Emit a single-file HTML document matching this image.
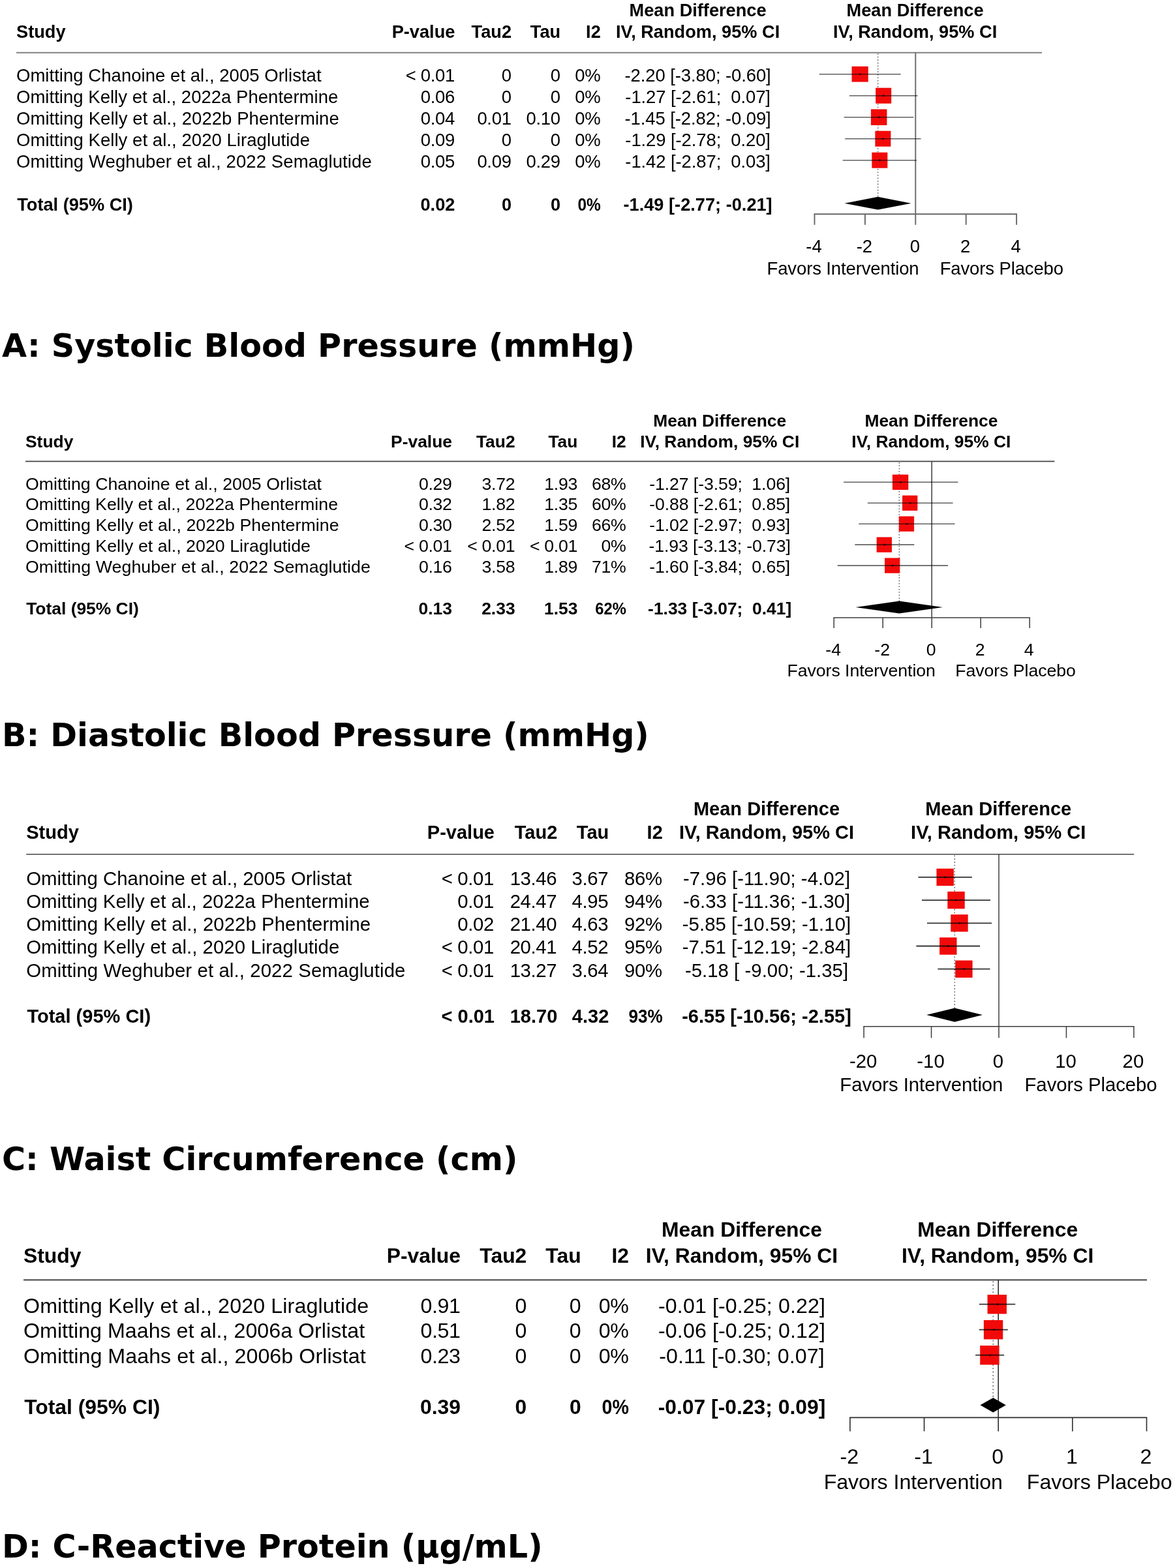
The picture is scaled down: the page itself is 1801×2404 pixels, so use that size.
<!DOCTYPE html>
<html lang="en">
<head>
<meta charset="utf-8">
<title>Sensitivity analysis forest plots</title>
<style>
html,body{margin:0;padding:0;background:#fff}
body{width:1801px;height:2404px;overflow:hidden}
svg{display:block}
text{fill:#000;white-space:pre}
.ls{font-family:"Liberation Sans",sans-serif}
.dv{font-family:"DejaVu Sans",sans-serif}
.b{font-weight:700}
.ln{fill:none}
.ci{stroke:#000;fill:none}
.dot{stroke:#5a5a5a;stroke-width:1.5;fill:none}
text{stroke:none}
.sq,.pt,.dia{stroke:none}
.nu{letter-spacing:-.012em}
.sq{fill:#f20a0a}
.pt{fill:#000;fill-opacity:.55}
.dia{fill:#000}
</style>
</head>
<body>
<svg width="1801" height="2404" viewBox="0 0 1801 2404">
<defs><filter id="soft" x="0" y="0" width="1801" height="2404" filterUnits="userSpaceOnUse" color-interpolation-filters="sRGB"><feGaussianBlur stdDeviation="0.55"/></filter></defs>
<rect width="1801" height="2404" fill="#fff"/>
<g id="pa" stroke="#666" stroke-width="1.9" filter="url(#soft)">
<text class="ls b" x="25.00" y="58" font-size="27.20">Study</text>
<text class="ls b" x="697.40" y="58" font-size="27.20" text-anchor="end">P-value</text>
<text class="ls b" x="784.00" y="58" font-size="27.20" text-anchor="end">Tau2</text>
<text class="ls b" x="859.20" y="58" font-size="27.20" text-anchor="end">Tau</text>
<text class="ls b" x="920.80" y="58" font-size="27.20" text-anchor="end">I2</text>
<text class="ls b" x="1069.60" y="25" font-size="27.20" text-anchor="middle">Mean Difference</text>
<text class="ls b" x="1069.60" y="58" font-size="27.20" text-anchor="middle">IV, Random, 95% CI</text>
<text class="ls b" x="1402.60" y="25" font-size="27.20" text-anchor="middle">Mean Difference</text>
<text class="ls b" x="1402.60" y="58" font-size="27.20" text-anchor="middle">IV, Random, 95% CI</text>
<line class="ln" stroke="#808080" stroke-width="2.0" x1="25.00" x2="1597.00" y1="80.70" y2="80.70"/>
<line class="ln" x1="1403.30" x2="1403.30" y1="80.70" y2="328.20"/>
<line class="dot" stroke-dasharray="1.54 2.99" x1="1345.64" x2="1345.64" y1="82.29" y2="311.70"/>
<text class="ls nm" x="25.00" y="125" font-size="27.50" textLength="467.57" lengthAdjust="spacing">Omitting Chanoine et al., 2005 Orlistat</text>
<text class="ls nu" x="697.00" y="125" font-size="27.50" text-anchor="end">&lt; 0.01</text>
<text class="ls nu" x="783.60" y="125" font-size="27.50" text-anchor="end">0</text>
<text class="ls nu" x="858.80" y="125" font-size="27.50" text-anchor="end">0</text>
<text class="ls nu" x="920.40" y="125" font-size="27.50" text-anchor="end">0%</text>
<text class="ls" x="1069.60" y="125" font-size="27.50" text-anchor="middle" letter-spacing="-0.004em">-2.20 [-3.80; -0.60]</text>
<rect class="sq" x="1305.56" y="101.80" width="25.20" height="23.80"/>
<line class="ci" stroke-width="1.6" stroke-opacity="0.62" x1="1255.74" x2="1380.58" y1="113.70" y2="113.70"/>
<circle class="pt" cx="1318.16" cy="113.70" r="1.6"/>
<text class="ls nm" x="25.00" y="158" font-size="27.50" textLength="493.28" lengthAdjust="spacing">Omitting Kelly et al., 2022a Phentermine</text>
<text class="ls nu" x="697.00" y="158" font-size="27.50" text-anchor="end">0.06</text>
<text class="ls nu" x="783.60" y="158" font-size="27.50" text-anchor="end">0</text>
<text class="ls nu" x="858.80" y="158" font-size="27.50" text-anchor="end">0</text>
<text class="ls nu" x="920.40" y="158" font-size="27.50" text-anchor="end">0%</text>
<text class="ls" x="1069.60" y="158" font-size="27.50" text-anchor="middle" letter-spacing="-0.004em">-1.27 [-2.61;  0.07]</text>
<rect class="sq" x="1342.15" y="134.70" width="24.00" height="24.00"/>
<line class="ci" stroke-width="1.6" stroke-opacity="0.62" x1="1301.79" x2="1406.51" y1="146.70" y2="146.70"/>
<circle class="pt" cx="1354.15" cy="146.70" r="1.6"/>
<text class="ls nm" x="25.00" y="191" font-size="27.50" textLength="494.78" lengthAdjust="spacing">Omitting Kelly et al., 2022b Phentermine</text>
<text class="ls nu" x="697.00" y="191" font-size="27.50" text-anchor="end">0.04</text>
<text class="ls nu" x="783.60" y="191" font-size="27.50" text-anchor="end">0.01</text>
<text class="ls nu" x="858.80" y="191" font-size="27.50" text-anchor="end">0.10</text>
<text class="ls nu" x="920.40" y="191" font-size="27.50" text-anchor="end">0%</text>
<text class="ls" x="1069.60" y="191" font-size="27.50" text-anchor="middle" letter-spacing="-0.004em">-1.45 [-2.82; -0.09]</text>
<rect class="sq" x="1334.93" y="167.45" width="24.50" height="24.50"/>
<line class="ci" stroke-width="1.6" stroke-opacity="0.62" x1="1293.67" x2="1400.32" y1="179.70" y2="179.70"/>
<circle class="pt" cx="1347.18" cy="179.70" r="1.6"/>
<text class="ls nm" x="25.00" y="224" font-size="27.50" textLength="449.99" lengthAdjust="spacing">Omitting Kelly et al., 2020 Liraglutide</text>
<text class="ls nu" x="697.00" y="224" font-size="27.50" text-anchor="end">0.09</text>
<text class="ls nu" x="783.60" y="224" font-size="27.50" text-anchor="end">0</text>
<text class="ls nu" x="858.80" y="224" font-size="27.50" text-anchor="end">0</text>
<text class="ls nu" x="920.40" y="224" font-size="27.50" text-anchor="end">0%</text>
<text class="ls" x="1069.60" y="224" font-size="27.50" text-anchor="middle" letter-spacing="-0.004em">-1.29 [-2.78;  0.20]</text>
<rect class="sq" x="1341.38" y="200.70" width="24.00" height="24.00"/>
<line class="ci" stroke-width="1.6" stroke-opacity="0.62" x1="1295.21" x2="1411.54" y1="212.70" y2="212.70"/>
<circle class="pt" cx="1353.38" cy="212.70" r="1.6"/>
<text class="ls nm" x="25.00" y="257" font-size="27.50" textLength="544.71" lengthAdjust="spacing">Omitting Weghuber et al., 2022 Semaglutide</text>
<text class="ls nu" x="697.00" y="257" font-size="27.50" text-anchor="end">0.05</text>
<text class="ls nu" x="783.60" y="257" font-size="27.50" text-anchor="end">0.09</text>
<text class="ls nu" x="858.80" y="257" font-size="27.50" text-anchor="end">0.29</text>
<text class="ls nu" x="920.40" y="257" font-size="27.50" text-anchor="end">0%</text>
<text class="ls" x="1069.60" y="257" font-size="27.50" text-anchor="middle" letter-spacing="-0.004em">-1.42 [-2.87;  0.03]</text>
<rect class="sq" x="1336.35" y="233.70" width="24.00" height="24.00"/>
<line class="ci" stroke-width="1.6" stroke-opacity="0.62" x1="1291.73" x2="1404.96" y1="245.70" y2="245.70"/>
<circle class="pt" cx="1348.35" cy="245.70" r="1.6"/>
<text class="ls b" x="26.20" y="323" font-size="27.20">Total (95% CI)</text>
<text class="ls b" x="697.40" y="323" font-size="27.20" text-anchor="end">0.02</text>
<text class="ls b" x="784.00" y="323" font-size="27.20" text-anchor="end">0</text>
<text class="ls b" x="859.20" y="323" font-size="27.20" text-anchor="end">0</text>
<text class="ls b" x="920.80" y="323" font-size="27.20" text-anchor="end" textLength="35.38" lengthAdjust="spacingAndGlyphs">0%</text>
<text class="ls b" x="1069.60" y="323" font-size="27.20" text-anchor="middle">-1.49 [-2.77; -0.21]</text>
<polygon class="dia" points="1294.50,311.70 1345.64,301.80 1396.57,311.70 1345.64,321.60"/>
<line class="ln" x1="1247.55" x2="1559.05" y1="328.20" y2="328.20"/>
<line class="ln" x1="1248.50" x2="1248.50" y1="328.20" y2="344.70"/>
<line class="ln" x1="1325.90" x2="1325.90" y1="328.20" y2="344.70"/>
<line class="ln" x1="1403.30" x2="1403.30" y1="328.20" y2="344.70"/>
<line class="ln" x1="1480.70" x2="1480.70" y1="328.20" y2="344.70"/>
<line class="ln" x1="1558.10" x2="1558.10" y1="328.20" y2="344.70"/>
<text class="ls" x="1247.50" y="387" font-size="27.50" text-anchor="middle">-4</text>
<text class="ls" x="1324.90" y="387" font-size="27.50" text-anchor="middle">-2</text>
<text class="ls" x="1402.30" y="387" font-size="27.50" text-anchor="middle">0</text>
<text class="ls" x="1479.70" y="387" font-size="27.50" text-anchor="middle">2</text>
<text class="ls" x="1557.10" y="387" font-size="27.50" text-anchor="middle">4</text>
<text class="ls" x="1175.51" y="421" font-size="27.50" letter-spacing="-0.0045em">Favors Intervention</text>
<text class="ls" x="1629.98" y="421" font-size="27.50" text-anchor="end" letter-spacing="-0.0045em">Favors Placebo</text>
</g>
<text class="dv b" x="3.00" y="547" font-size="49.20">A: Systolic Blood Pressure (mmHg)</text>
<g id="pb" stroke="#3c3c3c" stroke-width="1.5" filter="url(#soft)">
<text class="ls b" x="39.00" y="686" font-size="26.41">Study</text>
<text class="ls b" x="693.00" y="686" font-size="26.41" text-anchor="end">P-value</text>
<text class="ls b" x="789.60" y="686" font-size="26.41" text-anchor="end">Tau2</text>
<text class="ls b" x="885.40" y="686" font-size="26.41" text-anchor="end">Tau</text>
<text class="ls b" x="959.80" y="686" font-size="26.41" text-anchor="end">I2</text>
<text class="ls b" x="1103.20" y="654" font-size="26.41" text-anchor="middle">Mean Difference</text>
<text class="ls b" x="1103.20" y="686" font-size="26.41" text-anchor="middle">IV, Random, 95% CI</text>
<text class="ls b" x="1427.40" y="654" font-size="26.41" text-anchor="middle">Mean Difference</text>
<text class="ls b" x="1427.40" y="686" font-size="26.41" text-anchor="middle">IV, Random, 95% CI</text>
<line class="ln" stroke="#444" stroke-width="1.55" x1="39.00" x2="1616.50" y1="707.35" y2="707.35"/>
<line class="ln" x1="1428.20" x2="1428.20" y1="707.35" y2="946.98"/>
<line class="dot" stroke-dasharray="1.50 2.91" x1="1378.33" x2="1378.33" y1="708.89" y2="931.00"/>
<text class="ls nm" x="39.00" y="751" font-size="26.70" textLength="453.97" lengthAdjust="spacing">Omitting Chanoine et al., 2005 Orlistat</text>
<text class="ls nu" x="692.60" y="751" font-size="26.70" text-anchor="end">0.29</text>
<text class="ls nu" x="789.20" y="751" font-size="26.70" text-anchor="end">3.72</text>
<text class="ls nu" x="885.00" y="751" font-size="26.70" text-anchor="end">1.93</text>
<text class="ls nu" x="959.40" y="751" font-size="26.70" text-anchor="end">68%</text>
<text class="ls" x="1103.20" y="751" font-size="26.70" text-anchor="middle" letter-spacing="-0.004em">-1.27 [-3.59;  1.06]</text>
<rect class="sq" x="1367.88" y="727.60" width="24.40" height="23.40"/>
<line class="ci" stroke-width="1.6" stroke-opacity="0.62" x1="1293.08" x2="1468.45" y1="739.30" y2="739.30"/>
<circle class="pt" cx="1380.58" cy="739.30" r="1.6"/>
<text class="ls nm" x="39.00" y="782" font-size="26.70" textLength="478.98" lengthAdjust="spacing">Omitting Kelly et al., 2022a Phentermine</text>
<text class="ls nu" x="692.60" y="782" font-size="26.70" text-anchor="end">0.32</text>
<text class="ls nu" x="789.20" y="782" font-size="26.70" text-anchor="end">1.82</text>
<text class="ls nu" x="885.00" y="782" font-size="26.70" text-anchor="end">1.35</text>
<text class="ls nu" x="959.40" y="782" font-size="26.70" text-anchor="end">60%</text>
<text class="ls" x="1103.20" y="782" font-size="26.70" text-anchor="middle" letter-spacing="-0.004em">-0.88 [-2.61;  0.85]</text>
<rect class="sq" x="1383.05" y="759.60" width="23.30" height="23.30"/>
<line class="ci" stroke-width="1.6" stroke-opacity="0.62" x1="1329.83" x2="1460.58" y1="771.25" y2="771.25"/>
<circle class="pt" cx="1395.20" cy="771.25" r="1.6"/>
<text class="ls nm" x="39.00" y="814" font-size="26.70" textLength="480.48" lengthAdjust="spacing">Omitting Kelly et al., 2022b Phentermine</text>
<text class="ls nu" x="692.60" y="814" font-size="26.70" text-anchor="end">0.30</text>
<text class="ls nu" x="789.20" y="814" font-size="26.70" text-anchor="end">2.52</text>
<text class="ls nu" x="885.00" y="814" font-size="26.70" text-anchor="end">1.59</text>
<text class="ls nu" x="959.40" y="814" font-size="26.70" text-anchor="end">66%</text>
<text class="ls" x="1103.20" y="814" font-size="26.70" text-anchor="middle" letter-spacing="-0.004em">-1.02 [-2.97;  0.93]</text>
<rect class="sq" x="1377.80" y="791.55" width="23.30" height="23.30"/>
<line class="ci" stroke-width="1.6" stroke-opacity="0.62" x1="1316.33" x2="1463.58" y1="803.20" y2="803.20"/>
<circle class="pt" cx="1389.95" cy="803.20" r="1.6"/>
<text class="ls nm" x="39.00" y="846" font-size="26.70" textLength="436.89" lengthAdjust="spacing">Omitting Kelly et al., 2020 Liraglutide</text>
<text class="ls nu" x="692.60" y="846" font-size="26.70" text-anchor="end">&lt; 0.01</text>
<text class="ls nu" x="789.20" y="846" font-size="26.70" text-anchor="end">&lt; 0.01</text>
<text class="ls nu" x="885.00" y="846" font-size="26.70" text-anchor="end">&lt; 0.01</text>
<text class="ls nu" x="959.40" y="846" font-size="26.70" text-anchor="end">0%</text>
<text class="ls" x="1103.20" y="846" font-size="26.70" text-anchor="middle" letter-spacing="-0.004em">-1.93 [-3.13; -0.73]</text>
<rect class="sq" x="1343.67" y="823.50" width="23.30" height="23.30"/>
<line class="ci" stroke-width="1.6" stroke-opacity="0.62" x1="1310.33" x2="1401.33" y1="835.15" y2="835.15"/>
<circle class="pt" cx="1355.83" cy="835.15" r="1.6"/>
<text class="ls nm" x="39.00" y="878" font-size="26.70" textLength="528.91" lengthAdjust="spacing">Omitting Weghuber et al., 2022 Semaglutide</text>
<text class="ls nu" x="692.60" y="878" font-size="26.70" text-anchor="end">0.16</text>
<text class="ls nu" x="789.20" y="878" font-size="26.70" text-anchor="end">3.58</text>
<text class="ls nu" x="885.00" y="878" font-size="26.70" text-anchor="end">1.89</text>
<text class="ls nu" x="959.40" y="878" font-size="26.70" text-anchor="end">71%</text>
<text class="ls" x="1103.20" y="878" font-size="26.70" text-anchor="middle" letter-spacing="-0.004em">-1.60 [-3.84;  0.65]</text>
<rect class="sq" x="1356.05" y="855.45" width="23.30" height="23.30"/>
<line class="ci" stroke-width="1.6" stroke-opacity="0.62" x1="1283.70" x2="1453.08" y1="867.10" y2="867.10"/>
<circle class="pt" cx="1368.20" cy="867.10" r="1.6"/>
<text class="ls b" x="40.20" y="942" font-size="26.41">Total (95% CI)</text>
<text class="ls b" x="693.00" y="942" font-size="26.41" text-anchor="end">0.13</text>
<text class="ls b" x="789.60" y="942" font-size="26.41" text-anchor="end">2.33</text>
<text class="ls b" x="885.40" y="942" font-size="26.41" text-anchor="end">1.53</text>
<text class="ls b" x="959.80" y="942" font-size="26.41" text-anchor="end" textLength="47.57" lengthAdjust="spacingAndGlyphs">62%</text>
<text class="ls b" x="1103.20" y="942" font-size="26.41" text-anchor="middle">-1.33 [-3.07;  0.41]</text>
<polygon class="dia" points="1311.48,931.00 1378.33,921.41 1444.98,931.00 1378.33,940.59"/>
<line class="ln" x1="1277.45" x2="1578.95" y1="946.98" y2="946.98"/>
<line class="ln" x1="1278.20" x2="1278.20" y1="946.98" y2="962.95"/>
<line class="ln" x1="1353.20" x2="1353.20" y1="946.98" y2="962.95"/>
<line class="ln" x1="1428.20" x2="1428.20" y1="946.98" y2="962.95"/>
<line class="ln" x1="1503.20" x2="1503.20" y1="946.98" y2="962.95"/>
<line class="ln" x1="1578.20" x2="1578.20" y1="946.98" y2="962.95"/>
<text class="ls" x="1277.20" y="1005" font-size="26.70" text-anchor="middle">-4</text>
<text class="ls" x="1352.20" y="1005" font-size="26.70" text-anchor="middle">-2</text>
<text class="ls" x="1427.20" y="1005" font-size="26.70" text-anchor="middle">0</text>
<text class="ls" x="1502.20" y="1005" font-size="26.70" text-anchor="middle">2</text>
<text class="ls" x="1577.20" y="1005" font-size="26.70" text-anchor="middle">4</text>
<text class="ls" x="1206.47" y="1037" font-size="26.70" letter-spacing="-0.002em">Favors Intervention</text>
<text class="ls" x="1648.91" y="1037" font-size="26.70" text-anchor="end" letter-spacing="-0.002em">Favors Placebo</text>
</g>
<text class="dv b" x="3.00" y="1144" font-size="49.20">B: Diastolic Blood Pressure (mmHg)</text>
<g id="pc" stroke="#3c3c3c" stroke-width="1.5" filter="url(#soft)">
<text class="ls b" x="40.20" y="1286" font-size="29.03">Study</text>
<text class="ls b" x="758.00" y="1286" font-size="29.03" text-anchor="end">P-value</text>
<text class="ls b" x="854.30" y="1286" font-size="29.03" text-anchor="end">Tau2</text>
<text class="ls b" x="933.30" y="1286" font-size="29.03" text-anchor="end">Tau</text>
<text class="ls b" x="1015.80" y="1286" font-size="29.03" text-anchor="end">I2</text>
<text class="ls b" x="1175.00" y="1250" font-size="29.03" text-anchor="middle">Mean Difference</text>
<text class="ls b" x="1175.00" y="1286" font-size="29.03" text-anchor="middle">IV, Random, 95% CI</text>
<text class="ls b" x="1530.20" y="1250" font-size="29.03" text-anchor="middle">Mean Difference</text>
<text class="ls b" x="1530.20" y="1286" font-size="29.03" text-anchor="middle">IV, Random, 95% CI</text>
<line class="ln" stroke="#444" stroke-width="1.55" x1="40.20" x2="1738.20" y1="1309.70" y2="1309.70"/>
<line class="ln" x1="1531.00" x2="1531.00" y1="1309.70" y2="1573.70"/>
<line class="dot" stroke-dasharray="1.65 3.20" x1="1463.24" x2="1463.24" y1="1311.39" y2="1556.10"/>
<text class="ls nm" x="40.20" y="1357" font-size="29.35" textLength="498.87" lengthAdjust="spacing">Omitting Chanoine et al., 2005 Orlistat</text>
<text class="ls nu" x="757.00" y="1357" font-size="29.35" text-anchor="end">&lt; 0.01</text>
<text class="ls nu" x="853.30" y="1357" font-size="29.35" text-anchor="end">13.46</text>
<text class="ls nu" x="932.30" y="1357" font-size="29.35" text-anchor="end">3.67</text>
<text class="ls nu" x="1014.80" y="1357" font-size="29.35" text-anchor="end">86%</text>
<text class="ls" x="1175.00" y="1357" font-size="29.35" text-anchor="middle" letter-spacing="0.001em">-7.96 [-11.90; -4.02]</text>
<rect class="sq" x="1435.45" y="1331.70" width="26.40" height="26.40"/>
<line class="ci" stroke-width="1.8" stroke-opacity="0.8" x1="1407.39" x2="1489.91" y1="1344.90" y2="1344.90"/>
<circle class="pt" cx="1448.65" cy="1344.90" r="1.6"/>
<text class="ls nm" x="40.20" y="1392" font-size="29.35" textLength="526.37" lengthAdjust="spacing">Omitting Kelly et al., 2022a Phentermine</text>
<text class="ls nu" x="757.00" y="1392" font-size="29.35" text-anchor="end">0.01</text>
<text class="ls nu" x="853.30" y="1392" font-size="29.35" text-anchor="end">24.47</text>
<text class="ls nu" x="932.30" y="1392" font-size="29.35" text-anchor="end">4.95</text>
<text class="ls nu" x="1014.80" y="1392" font-size="29.35" text-anchor="end">94%</text>
<text class="ls" x="1175.00" y="1392" font-size="29.35" text-anchor="middle" letter-spacing="0.001em">-6.33 [-11.36; -1.30]</text>
<rect class="sq" x="1452.32" y="1366.90" width="26.40" height="26.40"/>
<line class="ci" stroke-width="1.8" stroke-opacity="0.8" x1="1412.98" x2="1518.05" y1="1380.10" y2="1380.10"/>
<circle class="pt" cx="1465.52" cy="1380.10" r="1.6"/>
<text class="ls nm" x="40.20" y="1427" font-size="29.35" textLength="527.97" lengthAdjust="spacing">Omitting Kelly et al., 2022b Phentermine</text>
<text class="ls nu" x="757.00" y="1427" font-size="29.35" text-anchor="end">0.02</text>
<text class="ls nu" x="853.30" y="1427" font-size="29.35" text-anchor="end">21.40</text>
<text class="ls nu" x="932.30" y="1427" font-size="29.35" text-anchor="end">4.63</text>
<text class="ls nu" x="1014.80" y="1427" font-size="29.35" text-anchor="end">92%</text>
<text class="ls" x="1175.00" y="1427" font-size="29.35" text-anchor="middle" letter-spacing="0.001em">-5.85 [-10.59; -1.10]</text>
<rect class="sq" x="1457.28" y="1402.10" width="26.40" height="26.40"/>
<line class="ci" stroke-width="1.8" stroke-opacity="0.8" x1="1420.95" x2="1520.12" y1="1415.30" y2="1415.30"/>
<circle class="pt" cx="1470.48" cy="1415.30" r="1.6"/>
<text class="ls nm" x="40.20" y="1462" font-size="29.35" textLength="480.09" lengthAdjust="spacing">Omitting Kelly et al., 2020 Liraglutide</text>
<text class="ls nu" x="757.00" y="1462" font-size="29.35" text-anchor="end">&lt; 0.01</text>
<text class="ls nu" x="853.30" y="1462" font-size="29.35" text-anchor="end">20.41</text>
<text class="ls nu" x="932.30" y="1462" font-size="29.35" text-anchor="end">4.52</text>
<text class="ls nu" x="1014.80" y="1462" font-size="29.35" text-anchor="end">95%</text>
<text class="ls" x="1175.00" y="1462" font-size="29.35" text-anchor="middle" letter-spacing="0.001em">-7.51 [-12.19; -2.84]</text>
<rect class="sq" x="1440.11" y="1437.30" width="26.40" height="26.40"/>
<line class="ci" stroke-width="1.8" stroke-opacity="0.8" x1="1404.39" x2="1502.12" y1="1450.50" y2="1450.50"/>
<circle class="pt" cx="1453.31" cy="1450.50" r="1.6"/>
<text class="ls nm" x="40.20" y="1498" font-size="29.35" textLength="581.21" lengthAdjust="spacing">Omitting Weghuber et al., 2022 Semaglutide</text>
<text class="ls nu" x="757.00" y="1498" font-size="29.35" text-anchor="end">&lt; 0.01</text>
<text class="ls nu" x="853.30" y="1498" font-size="29.35" text-anchor="end">13.27</text>
<text class="ls nu" x="932.30" y="1498" font-size="29.35" text-anchor="end">3.64</text>
<text class="ls nu" x="1014.80" y="1498" font-size="29.35" text-anchor="end">90%</text>
<text class="ls" x="1175.00" y="1498" font-size="29.35" text-anchor="middle" letter-spacing="0.001em">-5.18 [ -9.00; -1.35]</text>
<rect class="sq" x="1464.21" y="1472.50" width="26.40" height="26.40"/>
<line class="ci" stroke-width="1.8" stroke-opacity="0.8" x1="1437.39" x2="1517.53" y1="1485.70" y2="1485.70"/>
<circle class="pt" cx="1477.41" cy="1485.70" r="1.6"/>
<text class="ls b" x="41.40" y="1568" font-size="29.03">Total (95% CI)</text>
<text class="ls b" x="758.00" y="1568" font-size="29.03" text-anchor="end">&lt; 0.01</text>
<text class="ls b" x="854.30" y="1568" font-size="29.03" text-anchor="end">18.70</text>
<text class="ls b" x="933.30" y="1568" font-size="29.03" text-anchor="end">4.32</text>
<text class="ls b" x="1015.80" y="1568" font-size="29.03" text-anchor="end" textLength="52.29" lengthAdjust="spacingAndGlyphs">93%</text>
<text class="ls b" x="1175.00" y="1568" font-size="29.03" text-anchor="middle">-6.55 [-10.56; -2.55]</text>
<polygon class="dia" points="1420.16,1556.10 1463.24,1545.54 1506.02,1556.10 1463.24,1566.66"/>
<line class="ln" x1="1323.35" x2="1738.65" y1="1573.70" y2="1573.70"/>
<line class="ln" x1="1324.10" x2="1324.10" y1="1573.70" y2="1591.30"/>
<line class="ln" x1="1427.55" x2="1427.55" y1="1573.70" y2="1591.30"/>
<line class="ln" x1="1531.00" x2="1531.00" y1="1573.70" y2="1591.30"/>
<line class="ln" x1="1634.45" x2="1634.45" y1="1573.70" y2="1591.30"/>
<line class="ln" x1="1737.90" x2="1737.90" y1="1573.70" y2="1591.30"/>
<text class="ls" x="1323.10" y="1637" font-size="29.35" text-anchor="middle">-20</text>
<text class="ls" x="1426.55" y="1637" font-size="29.35" text-anchor="middle">-10</text>
<text class="ls" x="1530.00" y="1637" font-size="29.35" text-anchor="middle">0</text>
<text class="ls" x="1633.45" y="1637" font-size="29.35" text-anchor="middle">10</text>
<text class="ls" x="1736.90" y="1637" font-size="29.35" text-anchor="middle">20</text>
<text class="ls" x="1287.32" y="1673" font-size="29.35" letter-spacing="-0.002em">Favors Intervention</text>
<text class="ls" x="1773.57" y="1673" font-size="29.35" text-anchor="end" letter-spacing="-0.002em">Favors Placebo</text>
</g>
<text class="dv b" x="3.00" y="1794" font-size="49.20">C: Waist Circumference (cm)</text>
<g id="pd" stroke="#2c2c2c" stroke-width="1.6" filter="url(#soft)">
<text class="ls b" x="36.00" y="1936" font-size="31.85">Study</text>
<text class="ls b" x="706.00" y="1936" font-size="31.85" text-anchor="end">P-value</text>
<text class="ls b" x="807.30" y="1936" font-size="31.85" text-anchor="end">Tau2</text>
<text class="ls b" x="890.60" y="1936" font-size="31.85" text-anchor="end">Tau</text>
<text class="ls b" x="964.00" y="1936" font-size="31.85" text-anchor="end">I2</text>
<text class="ls b" x="1137.00" y="1896" font-size="31.85" text-anchor="middle">Mean Difference</text>
<text class="ls b" x="1137.00" y="1936" font-size="31.85" text-anchor="middle">IV, Random, 95% CI</text>
<text class="ls b" x="1529.20" y="1896" font-size="31.85" text-anchor="middle">Mean Difference</text>
<text class="ls b" x="1529.20" y="1936" font-size="31.85" text-anchor="middle">IV, Random, 95% CI</text>
<line class="ln" stroke="#2c2c2c" stroke-width="1.6" x1="36.00" x2="1758.00" y1="1962.40" y2="1962.40"/>
<line class="ln" x1="1530.20" x2="1530.20" y1="1962.40" y2="2173.40"/>
<line class="dot" stroke-dasharray="1.81 3.51" x1="1522.24" x2="1522.24" y1="1964.26" y2="2154.30"/>
<text class="ls nm" x="36.00" y="2013" font-size="32.20" textLength="529.09" lengthAdjust="spacing">Omitting Kelly et al., 2020 Liraglutide</text>
<text class="ls nu" x="705.60" y="2013" font-size="32.20" text-anchor="end">0.91</text>
<text class="ls nu" x="806.90" y="2013" font-size="32.20" text-anchor="end">0</text>
<text class="ls nu" x="890.20" y="2013" font-size="32.20" text-anchor="end">0</text>
<text class="ls nu" x="963.60" y="2013" font-size="32.20" text-anchor="end">0%</text>
<text class="ls" x="1137.00" y="2013" font-size="32.20" text-anchor="middle" letter-spacing="0.003em">-0.01 [-0.25; 0.22]</text>
<rect class="sq" x="1513.56" y="1985.00" width="29.40" height="29.40"/>
<line class="ci" stroke-width="1.8" stroke-opacity="0.8" x1="1500.79" x2="1556.20" y1="1999.70" y2="1999.70"/>
<circle class="pt" cx="1529.06" cy="1999.70" r="1.6"/>
<text class="ls nm" x="36.00" y="2051" font-size="32.20" textLength="523.10" lengthAdjust="spacing">Omitting Maahs et al., 2006a Orlistat</text>
<text class="ls nu" x="705.60" y="2051" font-size="32.20" text-anchor="end">0.51</text>
<text class="ls nu" x="806.90" y="2051" font-size="32.20" text-anchor="end">0</text>
<text class="ls nu" x="890.20" y="2051" font-size="32.20" text-anchor="end">0</text>
<text class="ls nu" x="963.60" y="2051" font-size="32.20" text-anchor="end">0%</text>
<text class="ls" x="1137.00" y="2051" font-size="32.20" text-anchor="middle" letter-spacing="0.003em">-0.06 [-0.25; 0.12]</text>
<rect class="sq" x="1507.88" y="2024.00" width="29.40" height="29.40"/>
<line class="ci" stroke-width="1.8" stroke-opacity="0.8" x1="1500.79" x2="1544.84" y1="2038.70" y2="2038.70"/>
<circle class="pt" cx="1523.38" cy="2038.70" r="1.6"/>
<text class="ls nm" x="36.00" y="2090" font-size="32.20" textLength="524.70" lengthAdjust="spacing">Omitting Maahs et al., 2006b Orlistat</text>
<text class="ls nu" x="705.60" y="2090" font-size="32.20" text-anchor="end">0.23</text>
<text class="ls nu" x="806.90" y="2090" font-size="32.20" text-anchor="end">0</text>
<text class="ls nu" x="890.20" y="2090" font-size="32.20" text-anchor="end">0</text>
<text class="ls nu" x="963.60" y="2090" font-size="32.20" text-anchor="end">0%</text>
<text class="ls" x="1137.00" y="2090" font-size="32.20" text-anchor="middle" letter-spacing="0.003em">-0.11 [-0.30; 0.07]</text>
<rect class="sq" x="1502.20" y="2063.00" width="29.40" height="29.40"/>
<line class="ci" stroke-width="1.8" stroke-opacity="0.8" x1="1495.11" x2="1539.16" y1="2077.70" y2="2077.70"/>
<circle class="pt" cx="1517.70" cy="2077.70" r="1.6"/>
<text class="ls b" x="37.20" y="2168" font-size="31.85">Total (95% CI)</text>
<text class="ls b" x="706.00" y="2168" font-size="31.85" text-anchor="end">0.39</text>
<text class="ls b" x="807.30" y="2168" font-size="31.85" text-anchor="end">0</text>
<text class="ls b" x="890.60" y="2168" font-size="31.85" text-anchor="end">0</text>
<text class="ls b" x="964.00" y="2168" font-size="31.85" text-anchor="end" textLength="41.43" lengthAdjust="spacingAndGlyphs">0%</text>
<text class="ls b" x="1137.00" y="2168" font-size="31.85" text-anchor="middle">-0.07 [-0.23; 0.09]</text>
<polygon class="dia" points="1502.46,2154.30 1522.24,2143.10 1541.83,2154.30 1522.24,2165.50"/>
<line class="ln" x1="1302.10" x2="1758.30" y1="2173.40" y2="2173.40"/>
<line class="ln" x1="1302.90" x2="1302.90" y1="2173.40" y2="2194.40"/>
<line class="ln" x1="1416.55" x2="1416.55" y1="2173.40" y2="2194.40"/>
<line class="ln" x1="1530.20" x2="1530.20" y1="2173.40" y2="2194.40"/>
<line class="ln" x1="1643.85" x2="1643.85" y1="2173.40" y2="2194.40"/>
<line class="ln" x1="1757.50" x2="1757.50" y1="2173.40" y2="2194.40"/>
<text class="ls" x="1301.90" y="2244" font-size="32.20" text-anchor="middle">-2</text>
<text class="ls" x="1415.55" y="2244" font-size="32.20" text-anchor="middle">-1</text>
<text class="ls" x="1529.20" y="2244" font-size="32.20" text-anchor="middle">0</text>
<text class="ls" x="1642.85" y="2244" font-size="32.20" text-anchor="middle">1</text>
<text class="ls" x="1756.50" y="2244" font-size="32.20" text-anchor="middle">2</text>
<text class="ls" x="1262.65" y="2283" font-size="32.20" letter-spacing="-0.002em">Favors Intervention</text>
<text class="ls" x="1796.52" y="2283" font-size="32.20" text-anchor="end" letter-spacing="-0.002em">Favors Placebo</text>
</g>
<text class="dv b" x="3.00" y="2388" font-size="49.20">D: C-Reactive Protein (µg/mL)</text>
</svg>
</body>
</html>
